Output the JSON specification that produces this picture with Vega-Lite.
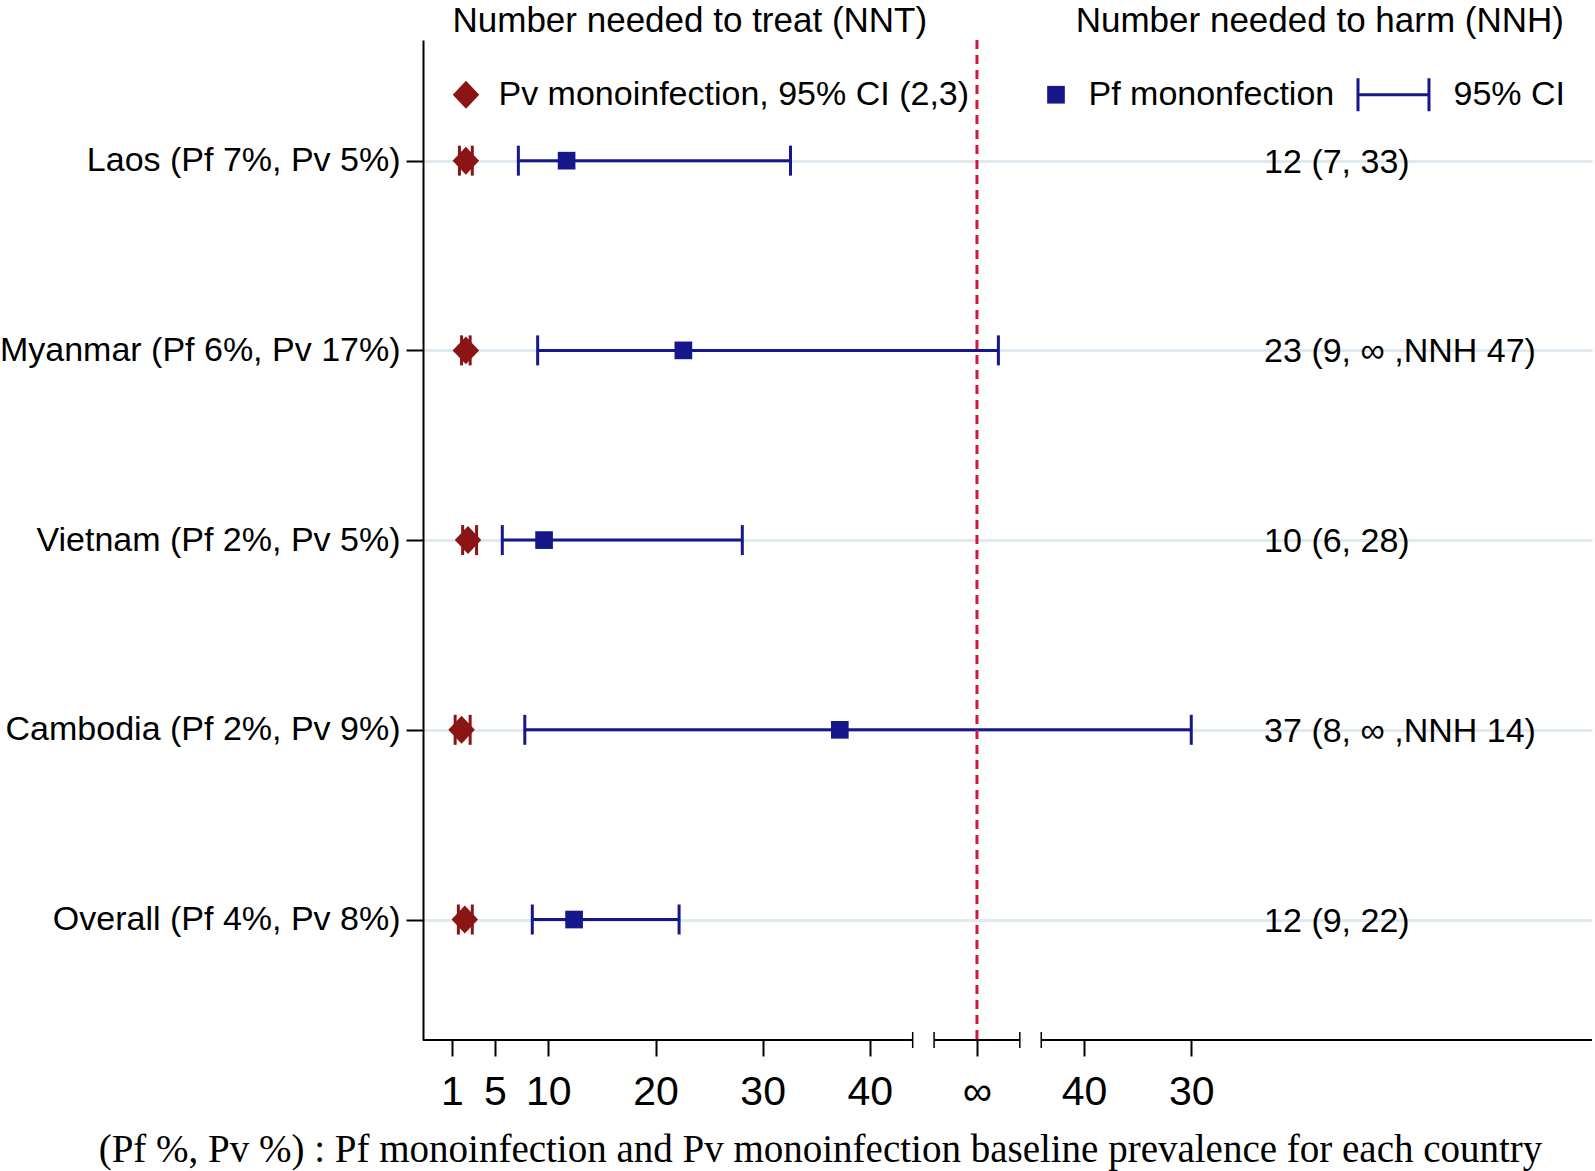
{
  "$schema": "https://vega.github.io/schema/vega-lite/v6.json",
  "width": 1169,
  "height": 1000,
  "autosize": {"type": "none"},
  "padding": {"left": 423, "top": 40, "right": 3, "bottom": 131},
  "background": "white",
  "config": {
    "view": {"stroke": null},
    "font": "Liberation Sans"
  },
  "resolve": {"axis": {"x": "independent", "y": "independent"}},
  "datasets": {
    "rows": [
      {"country": "Laos (Pf 7%, Pv 5%)", "row": 5, "series": "Pf mononfection", "est": 11.7, "lo": 7.2, "hi": 32.6, "label": "12 (7, 33)"},
      {"country": "Laos (Pf 7%, Pv 5%)", "row": 5, "series": "Pv monoinfection, 95% CI (2,3)", "est": 2.3, "lo": 1.7, "hi": 2.9},
      {"country": "Myanmar (Pf 6%, Pv 17%)", "row": 4, "series": "Pf mononfection", "est": 22.6, "lo": 9.0, "hi": 52.0, "label": "23 (9, ∞ ,NNH 47)"},
      {"country": "Myanmar (Pf 6%, Pv 17%)", "row": 4, "series": "Pv monoinfection, 95% CI (2,3)", "est": 2.3, "lo": 1.9, "hi": 2.7},
      {"country": "Vietnam (Pf 2%, Pv 5%)", "row": 3, "series": "Pf mononfection", "est": 9.6, "lo": 5.7, "hi": 28.1, "label": "10 (6, 28)"},
      {"country": "Vietnam (Pf 2%, Pv 5%)", "row": 3, "series": "Pv monoinfection, 95% CI (2,3)", "est": 2.5, "lo": 2.0, "hi": 3.3},
      {"country": "Cambodia (Pf 2%, Pv 9%)", "row": 2, "series": "Pf mononfection", "est": 37.2, "lo": 7.8, "hi": 70.0, "label": "37 (8, ∞ ,NNH 14)"},
      {"country": "Cambodia (Pf 2%, Pv 9%)", "row": 2, "series": "Pv monoinfection, 95% CI (2,3)", "est": 1.9, "lo": 1.3, "hi": 2.7},
      {"country": "Overall (Pf 4%, Pv 8%)", "row": 1, "series": "Pf mononfection", "est": 12.4, "lo": 8.5, "hi": 22.2, "label": "12 (9, 22)"},
      {"country": "Overall (Pf 4%, Pv 8%)", "row": 1, "series": "Pv monoinfection, 95% CI (2,3)", "est": 2.2, "lo": 1.6, "hi": 2.9}
    ],
    "titles": [
      {"title": "Number needed to treat (NNT)", "at": 23.2},
      {"title": "Number needed to harm (NNH)", "at": 82.0}
    ],
    "axisline": [
      {"from": -1.7, "to": 44},
      {"from": 46, "to": 54},
      {"from": 56, "to": 107.4}
    ],
    "breaks": [{"at": 44}, {"at": 46}, {"at": 54}, {"at": 56}]
  },
  "layer": [
    {
      "data": {"name": "rows"},
      "transform": [{"filter": "isValid(datum.label)"}],
      "mark": {"type": "text", "align": "left", "baseline": "middle", "dy": 2, "fontSize": 34, "font": "Liberation Sans", "color": "black"},
      "encoding": {
        "x": {"datum": 76.8, "type": "quantitative", "scale": {"domain": [-1.7, 107.4], "nice": false, "zero": false}, "axis": null},
        "y": {
          "field": "row", "type": "quantitative",
          "scale": {"domain": [0.365, 5.636], "nice": false, "zero": false},
          "axis": {
            "orient": "left",
            "values": [1, 2, 3, 4, 5],
            "labelExpr": "datum.value == 5 ? 'Laos (Pf 7%, Pv 5%)' : datum.value == 4 ? 'Myanmar (Pf 6%, Pv 17%)' : datum.value == 3 ? 'Vietnam (Pf 2%, Pv 5%)' : datum.value == 2 ? 'Cambodia (Pf 2%, Pv 9%)' : 'Overall (Pf 4%, Pv 8%)'",
            "labelFont": "Liberation Sans",
            "labelFontSize": 34,
            "labelColor": "black",
            "labelPadding": 6,
            "labelLimit": 1000,
            "labelOverlap": false,
            "tickSize": 17,
            "tickColor": "black",
            "tickWidth": 2,
            "domainColor": "black",
            "domainWidth": 2,
            "grid": true,
            "gridColor": "#dfe9ee",
            "gridWidth": 3,
            "title": null
          }
        },
        "text": {"field": "label"}
      }
    },
    {
      "data": {"name": "rows"},
      "mark": {"type": "rule", "strokeWidth": 3},
      "encoding": {
        "x": {"field": "lo", "type": "quantitative", "scale": {"domain": [-1.7, 107.4], "nice": false, "zero": false}, "axis": null},
        "x2": {"field": "hi"},
        "y": {"field": "row", "type": "quantitative", "scale": {"domain": [0.365, 5.636], "nice": false, "zero": false}, "axis": null},
        "color": {"condition": {"test": "datum.series == 'Pf mononfection'", "value": "#17178c"}, "value": "#8b1414"}
      }
    },
    {
      "data": {"name": "rows"},
      "transform": [{"fold": ["lo", "hi"], "as": ["end", "xv"]}],
      "mark": {"type": "tick", "orient": "vertical", "size": 30, "thickness": 3, "opacity": 1},
      "encoding": {
        "x": {"field": "xv", "type": "quantitative", "scale": {"domain": [-1.7, 107.4], "nice": false, "zero": false}, "axis": null},
        "y": {"field": "row", "type": "quantitative", "scale": {"domain": [0.365, 5.636], "nice": false, "zero": false}, "axis": null},
        "color": {"condition": {"test": "datum.series == 'Pf mononfection'", "value": "#17178c"}, "value": "#8b1414"}
      }
    },
    {
      "data": {"values": [{}]},
      "mark": {"type": "rule", "strokeDash": [9, 6], "strokeWidth": 3, "color": "#d4163f"},
      "encoding": {
        "x": {"datum": 50, "type": "quantitative", "scale": {"domain": [-1.7, 107.4], "nice": false, "zero": false}, "axis": null}
      }
    },
    {
      "data": {"name": "rows"},
      "mark": {"type": "point", "filled": true, "opacity": 1, "strokeWidth": 0, "size": 16641},
      "encoding": {
        "x": {
          "field": "est", "type": "quantitative",
          "scale": {"domain": [-1.7, 107.4], "nice": false, "zero": false},
          "axis": {
            "orient": "bottom",
            "values": [1, 5, 10, 20, 30, 40, 50, 60, 70],
            "labelExpr": "datum.value == 50 ? '∞' : datum.value > 50 ? format(100 - datum.value, 'd') : datum.label",
            "domain": false,
            "grid": false,
            "tickSize": 16,
            "tickColor": "black",
            "tickWidth": 2,
            "labelFont": "Liberation Sans",
            "labelFontSize": 41,
            "labelColor": "black",
            "labelPadding": 16,
            "labelOverlap": false,
            "labelFlush": false,
            "labelBound": false,
            "title": "(Pf %, Pv %) : Pf monoinfection and Pv monoinfection baseline prevalence for each country",
            "titleFont": "Liberation Serif",
            "titleFontSize": 39,
            "titleFontWeight": "normal",
            "titleColor": "black",
            "titleX": 397,
            "titleY": 121,
            "titleBaseline": "alphabetic",
            "titleAlign": "center",
            "titleAnchor": "middle",
            "titleLimit": 2000
          }
        },
        "y": {"field": "row", "type": "quantitative", "scale": {"domain": [0.365, 5.636], "nice": false, "zero": false}, "axis": null},
        "color": {
          "field": "series", "type": "nominal",
          "scale": {"domain": ["Pv monoinfection, 95% CI (2,3)", "Pf mononfection", "95% CI"], "range": ["#8b1414", "#17178c", "#17178c"]},
          "legend": {
            "title": null,
            "orient": "none",
            "legendX": -21.5,
            "legendY": -10,
            "direction": "horizontal",
            "labelFont": "Liberation Sans",
            "labelFontSize": 34,
            "labelColor": "black",
            "labelOffset": -32,
            "columnPadding": 22,
            "symbolSize": 16641,
            "symbolStrokeWidth": 0,
            "symbolOpacity": 1,
            "padding": 0,
            "labelLimit": 1000
          }
        },
        "shape": {
          "field": "series", "type": "nominal",
          "scale": {
            "domain": ["Pv monoinfection, 95% CI (2,3)", "Pf mononfection", "95% CI"],
            "range": [
              "M-0.2054,0L0,-0.217L0.2054,0L0,0.217Z",
              "M-0.137,-0.137L0.137,-0.137L0.137,0.137L-0.137,0.137Z",
              "M-1,-0.256L-0.9535,-0.256L-0.9535,-0.0233L0.1005,-0.0233L0.1005,-0.256L0.147,-0.256L0.147,0.256L0.1005,0.256L0.1005,0.0233L-0.9535,0.0233L-0.9535,0.256L-1,0.256Z"
            ]
          },
          "legend": {
            "title": null,
            "orient": "none",
            "legendX": -21.5,
            "legendY": -10,
            "direction": "horizontal",
            "labelFont": "Liberation Sans",
            "labelFontSize": 34,
            "labelColor": "black",
            "labelOffset": -32,
            "columnPadding": 22,
            "symbolSize": 16641,
            "symbolStrokeWidth": 0,
            "symbolOpacity": 1,
            "padding": 0,
            "labelLimit": 1000
          }
        }
      }
    },
    {
      "data": {"name": "titles"},
      "mark": {"type": "text", "align": "center", "baseline": "alphabetic", "fontSize": 35, "font": "Liberation Sans", "color": "black", "clip": false},
      "encoding": {
        "x": {"field": "at", "type": "quantitative", "scale": {"domain": [-1.7, 107.4], "nice": false, "zero": false}, "axis": null},
        "y": {"datum": 5.678, "type": "quantitative", "scale": {"domain": [0.365, 5.636], "nice": false, "zero": false}, "axis": null},
        "text": {"field": "title"}
      }
    },
    {
      "data": {"name": "axisline"},
      "mark": {"type": "rule", "strokeWidth": 2, "color": "black"},
      "encoding": {
        "x": {"field": "from", "type": "quantitative", "scale": {"domain": [-1.7, 107.4], "nice": false, "zero": false}, "axis": null},
        "x2": {"field": "to"},
        "y": {"datum": 0.365, "type": "quantitative", "scale": {"domain": [0.365, 5.636], "nice": false, "zero": false}, "axis": null}
      }
    },
    {
      "data": {"name": "breaks"},
      "mark": {"type": "tick", "orient": "vertical", "size": 16, "thickness": 1.5, "color": "black", "opacity": 1},
      "encoding": {
        "x": {"field": "at", "type": "quantitative", "scale": {"domain": [-1.7, 107.4], "nice": false, "zero": false}, "axis": null},
        "y": {"datum": 0.365, "type": "quantitative", "scale": {"domain": [0.365, 5.636], "nice": false, "zero": false}, "axis": null}
      }
    }
  ]
}
